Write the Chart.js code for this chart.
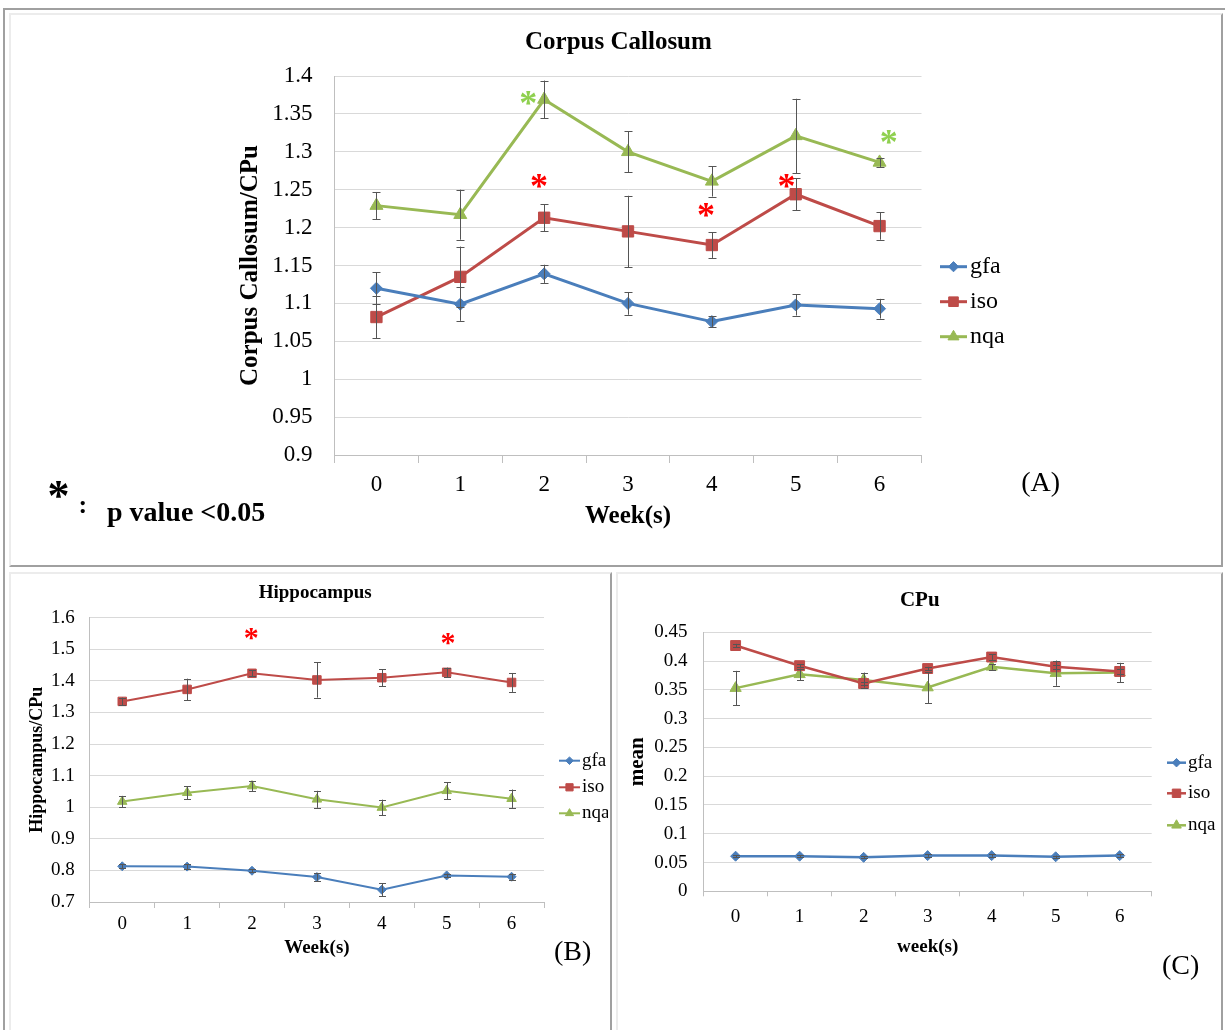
<!DOCTYPE html>
<html><head><meta charset="utf-8">
<script src="https://cdn.jsdelivr.net/npm/chart.js@4.4.1/dist/chart.umd.min.js"></script>
<style>
html,body{margin:0;padding:0;background:#fff;width:1225px;height:1030px;overflow:hidden;position:relative;}
.b{position:absolute;box-sizing:border-box;}
canvas{position:absolute;}
</style></head><body>
<div class="b" style="left:3px;top:8px;width:1230px;height:1030px;border-left:2px solid #a0a0a0;border-top:2px solid #a0a0a0;"></div>
<div class="b" style="left:9px;top:13px;width:1214px;height:554px;border:2px solid #a0a0a0;border-top-color:#ececec;border-left-color:#ececec;"></div>
<div class="b" style="left:9px;top:572px;width:603px;height:470px;border:2px solid #a0a0a0;border-top-color:#ececec;border-left-color:#ececec;border-bottom:none;"></div>
<div class="b" style="left:616px;top:572px;width:607px;height:470px;border:2px solid #a0a0a0;border-top-color:#ececec;border-left-color:#ececec;border-bottom:none;"></div>
<canvas id="cA" width="1206" height="548" style="left:12px;top:16px;width:1206px;height:548px;"></canvas>
<canvas id="cB" width="596" height="452" style="left:12px;top:576px;width:596px;height:452px;"></canvas>
<canvas id="cC" width="598" height="452" style="left:620px;top:576px;width:598px;height:452px;"></canvas>
<script>
// ---------- data ----------
const weeks = ['0','1','2','3','4','5','6'];
const seriesNames = ['gfa','iso','nqa'];

// (A) Corpus Callosum
const ccGfa    = [1.120, 1.099, 1.139, 1.100, 1.076, 1.098, 1.093];
const ccGfaErr = [0.021, 0.022, 0.012, 0.015, 0.007, 0.014, 0.013];
const ccIso    = [1.082, 1.135, 1.213, 1.195, 1.177, 1.244, 1.202];
const ccIsoErr = [0.028, 0.040, 0.018, 0.047, 0.017, 0.021, 0.018];
const ccNqa    = [1.229, 1.217, 1.369, 1.300, 1.261, 1.321, 1.286];
const ccNqaErr = [0.018, 0.033, 0.025, 0.027, 0.020, 0.049, 0.006];
const ccTicks  = ['0.9','0.95','1','1.05','1.1','1.15','1.2','1.25','1.3','1.35','1.4'];
const ccStarCat = [1.81, 1.94, 3.93, 4.89, 6.11];
const ccStarVal = [1.371, 1.261, 1.223, 1.261, 1.319];
const ccStarColor = ['#8FD04F', '#FF0000', '#FF0000', '#FF0000', '#8FD04F'];

// (B) Hippocampus
const hcGfa    = [0.813, 0.812, 0.799, 0.779, 0.739, 0.784, 0.780];
const hcGfaErr = [0.006, 0.008, 0.005, 0.012, 0.020, 0.006, 0.010];
const hcIso    = [1.335, 1.373, 1.424, 1.403, 1.410, 1.427, 1.395];
const hcIsoErr = [0.012, 0.034, 0.010, 0.056, 0.027, 0.015, 0.030];
const hcNqa    = [1.018, 1.046, 1.067, 1.025, 0.999, 1.052, 1.027];
const hcNqaErr = [0.018, 0.021, 0.016, 0.027, 0.025, 0.027, 0.029];
const hcTicks  = ['0.7','0.8','0.9','1','1.1','1.2','1.3','1.4','1.5','1.6'];
const hcStarCat = [1.99, 5.02];
const hcStarVal = [1.547, 1.532];
const hcStarColor = ['#FF0000', '#FF0000'];

// (C) CPu
const cpGfa    = [0.061, 0.061, 0.059, 0.062, 0.062, 0.060, 0.062];
const cpGfaErr = [0.002, 0.002, 0.002, 0.002, 0.002, 0.002, 0.002];
const cpIso    = [0.427, 0.392, 0.361, 0.387, 0.407, 0.390, 0.382];
const cpIsoErr = [0.003, 0.003, 0.003, 0.003, 0.005, 0.004, 0.004];
const cpNqa    = [0.353, 0.377, 0.367, 0.354, 0.390, 0.379, 0.380];
const cpNqaErr = [0.030, 0.010, 0.013, 0.027, 0.005, 0.022, 0.017];
const cpTicks  = ['0','0.05','0.1','0.15','0.2','0.25','0.3','0.35','0.4','0.45'];

// ---------- styling ----------
const colors = ['#4A7EBB', '#BE4B48', '#98B954'];
const pointStyles = ['rectRot', 'rect', 'triangle'];
const SERIF = "'Liberation Serif','Times New Roman',serif";
const gridGray = '#d9d9d9';
const axisGray = '#bfbfbf';

function drawCentered(ctx, text, cx, cy, font, color) {
  ctx.save();
  ctx.font = font; ctx.fillStyle = color;
  ctx.textAlign = 'left'; ctx.textBaseline = 'alphabetic';
  const m = ctx.measureText(text);
  const w = m.actualBoundingBoxLeft + m.actualBoundingBoxRight;
  const x = cx - w / 2 + m.actualBoundingBoxLeft;
  const y = cy + (m.actualBoundingBoxAscent - m.actualBoundingBoxDescent) / 2;
  ctx.fillText(text, x, y);
  ctx.restore();
}

function marker(ctx, style, r, x, y, color) {
  ctx.save();
  ctx.fillStyle = color; ctx.strokeStyle = color; ctx.lineWidth = 1;
  if (Chart.helpers && Chart.helpers.drawPoint) {
    Chart.helpers.drawPoint(ctx, {pointStyle: style, radius: r, borderWidth: 1, rotation: 0}, x, y);
  }
  ctx.restore();
}

const panelPlugin = {
  id: 'panel',
  afterDatasetsDraw(chart, args, opts) {
    const ctx = chart.ctx;
    const ys = chart.scales.y;
    // error bars
    ctx.save();
    ctx.strokeStyle = '#555'; ctx.lineWidth = 1;
    chart.data.datasets.forEach((ds, di) => {
      const meta = chart.getDatasetMeta(di);
      ds.data.forEach((v, i) => {
        const e = ds.errorBars[i];
        const x = Math.round(meta.data[i].x) + 0.5;
        const y1 = ys.getPixelForValue(v + e), y2 = ys.getPixelForValue(v - e);
        ctx.beginPath();
        ctx.moveTo(x, y1); ctx.lineTo(x, y2);
        ctx.moveTo(x - opts.cap, Math.round(y1) + 0.5); ctx.lineTo(x + opts.cap, Math.round(y1) + 0.5);
        ctx.moveTo(x - opts.cap, Math.round(y2) + 0.5); ctx.lineTo(x + opts.cap, Math.round(y2) + 0.5);
        ctx.stroke();
      });
    });
    ctx.restore();
    // significance stars
    const xs = chart.scales.x;
    (opts.stars.cat || []).forEach((c, i) => {
      drawCentered(ctx, '*', xs.getPixelForValue(c), ys.getPixelForValue(opts.stars.val[i]),
        'bold ' + opts.stars.size + 'px ' + SERIF, opts.stars.color[i]);
    });
  },
  afterDraw(chart, args, opts) {
    const ctx = chart.ctx;
    const ox = opts.ox, oy = opts.oy;
    // texts
    opts.texts.forEach(t => drawCentered(ctx, t.text, t.cx - ox, t.cy - oy, t.font, '#000'));
    // legend
    const L = opts.legend;
    chart.data.datasets.forEach((ds, i) => {
      const y = L.ys[i] - oy;
      ctx.save();
      ctx.strokeStyle = ds.borderColor; ctx.lineWidth = ds.borderWidth;
      ctx.beginPath(); ctx.moveTo(L.x0 - ox, y); ctx.lineTo(L.x1 - ox, y); ctx.stroke();
      ctx.restore();
      marker(ctx, ds.pointStyle, ds.pointRadius * 0.85, (L.x0 + L.x1) / 2 - ox, y, ds.borderColor);
      ctx.save();
      ctx.font = L.font; ctx.fillStyle = '#000'; ctx.textAlign = 'left'; ctx.textBaseline = 'middle';
      ctx.fillText(ds.label, L.tx - ox, y);
      ctx.restore();
    });
    // extra left-aligned texts
    (opts.extra || []).forEach(t => {
      ctx.save();
      ctx.font = t.font; ctx.fillStyle = '#000'; ctx.textAlign = 'left'; ctx.textBaseline = 'alphabetic';
      ctx.fillText(t.text, t.x - ox, t.y - oy);
      ctx.restore();
    });
  }
};

function makeChart(id, c) {
  const values = [c.gfa, c.iso, c.nqa];
  const errs = [c.gfaErr, c.isoErr, c.nqaErr];
  return new Chart(document.getElementById(id), {
    type: 'line',
    data: {
      labels: weeks,
      datasets: values.map((v, i) => ({
        label: seriesNames[i], data: v, errorBars: errs[i],
        borderColor: colors[i], backgroundColor: colors[i],
        pointBackgroundColor: colors[i], pointBorderColor: colors[i],
        borderWidth: c.lineWidth, pointStyle: pointStyles[i], pointRadius: c.radii[i],
        pointBorderWidth: 1, tension: 0, fill: false
      }))
    },
    options: {
      responsive: false, animation: false, devicePixelRatio: 1,
      layout: {padding: {left: 0, top: c.padTop, right: c.padRight, bottom: 0}},
      plugins: {
        legend: {display: false}, tooltip: {enabled: false}, title: {display: false},
        panel: c.panel
      },
      scales: {
        x: {
          type: 'category', offset: true,
          grid: {offset: true, drawOnChartArea: false, drawTicks: true, tickLength: c.xTickLen, color: axisGray},
          border: {color: axisGray},
          ticks: {font: {family: SERIF, size: c.xTickFont}, color: '#000', padding: c.xTickPad, maxRotation: 0, autoSkip: false},
          title: {display: true, text: c.xTitle, color: '#000', font: {family: SERIF, size: c.xTitleFont, weight: 'bold'}, padding: {top: 0, bottom: c.xTitlePad}},
          afterFit: s => { s.height = c.xH; }
        },
        y: {
          min: c.yMin, max: c.yMax,
          ticks: {stepSize: c.yStep, font: {family: SERIF, size: c.yTickFont}, color: '#000', padding: c.yTickPad,
            callback: v => { const l = c.yLabels.find(s => Math.abs(parseFloat(s) - v) < 1e-6); return l === undefined ? '' : l; }},
          grid: {color: gridGray, drawTicks: false},
          border: {color: axisGray},
          title: {display: true, text: c.yTitle, color: '#000', font: {family: SERIF, size: c.yTitleFont, weight: 'bold'}, padding: {top: c.yTitlePad, bottom: 0}},
          afterFit: s => { s.width = c.yW; }
        }
      }
    },
    plugins: [panelPlugin]
  });
}

makeChart('cA', {
  gfa: ccGfa, gfaErr: ccGfaErr, iso: ccIso, isoErr: ccIsoErr, nqa: ccNqa, nqaErr: ccNqaErr,
  lineWidth: 3, radii: [6, 8, 7.5],
  padTop: 60, padRight: 296.5, yW: 322.5, xH: 109,
  xTickLen: 8, xTickFont: 23, xTickPad: 8, xTitle: 'Week(s)', xTitleFont: 25, xTitlePad: 32,
  yMin: 0.9, yMax: 1.4, yStep: 0.05, yLabels: ccTicks, yTickFont: 23, yTickPad: 22,
  yTitle: 'Corpus Callosum/CPu', yTitleFont: 25, yTitlePad: 224,
  panel: {
    ox: 12, oy: 16, cap: 4,
    stars: {cat: ccStarCat, val: ccStarVal, color: ccStarColor, size: 36},
    texts: [
      {text: 'Corpus Callosum', cx: 619, cy: 42, font: 'bold 25px ' + SERIF},
      {text: '(A)', cx: 1041, cy: 484, font: '28px ' + SERIF},
      {text: '*', cx: 58.5, cy: 489, font: 'bold 44px ' + SERIF},
      {text: ':', cx: 83, cy: 507, font: 'bold 26px ' + SERIF}
    ],
    extra: [
      {text: 'p value <0.05', x: 107, y: 521, font: 'bold 28px ' + SERIF}
    ],
    legend: {x0: 940, x1: 967, tx: 970, ys: [266.7, 301.7, 336.7], font: '24px ' + SERIF}
  }
});

makeChart('cB', {
  gfa: hcGfa, gfaErr: hcGfaErr, iso: hcIso, isoErr: hcIsoErr, nqa: hcNqa, nqaErr: hcNqaErr,
  lineWidth: 2, radii: [4.5, 6, 5.5],
  padTop: 41.7, padRight: 64, yW: 77.8, xH: 126,
  xTickLen: 6, xTickFont: 19, xTickPad: 4.6, xTitle: 'Week(s)', xTitleFont: 19, xTitlePad: 68.6,
  yMin: 0.7, yMax: 1.6, yStep: 0.1, yLabels: hcTicks, yTickFont: 19, yTickPad: 15,
  yTitle: 'Hippocampus/CPu', yTitleFont: 18, yTitlePad: 14.2,
  panel: {
    ox: 12, oy: 576, cap: 3.5,
    stars: {cat: hcStarCat, val: hcStarVal, color: hcStarColor, size: 30},
    texts: [
      {text: 'Hippocampus', cx: 315, cy: 593, font: 'bold 19px ' + SERIF},
      {text: '(B)', cx: 573, cy: 953, font: '28px ' + SERIF}
    ],
    legend: {x0: 559, x1: 580, tx: 582, ys: [760.7, 787.3, 813.3], font: '19px ' + SERIF}
  }
});

makeChart('cC', {
  gfa: cpGfa, gfaErr: cpGfaErr, iso: cpIso, isoErr: cpIsoErr, nqa: cpNqa, nqaErr: cpNqaErr,
  lineWidth: 2.5, radii: [5, 7, 6.5],
  padTop: 56.3, padRight: 66.3, yW: 83.6, xH: 136.7,
  xTickLen: 5, xTickFont: 19, xTickPad: 9.6, xTitle: 'week(s)', xTitleFont: 19, xTitlePad: 69.9,
  yMin: 0, yMax: 0.45, yStep: 0.05, yLabels: cpTicks, yTickFont: 19, yTickPad: 16,
  yTitle: 'mean', yTitleFont: 21, yTitlePad: 5,
  panel: {
    ox: 620, oy: 576, cap: 3.5,
    stars: {cat: [], val: [], color: [], size: 26},
    texts: [
      {text: 'CPu', cx: 920.4, cy: 599.3, font: 'bold 21px ' + SERIF},
      {text: '(C)', cx: 1181, cy: 966.7, font: '28px ' + SERIF}
    ],
    legend: {x0: 1167, x1: 1186, tx: 1188, ys: [762.7, 793.3, 825.3], font: '19px ' + SERIF}
  }
});
</script>
</body></html>
